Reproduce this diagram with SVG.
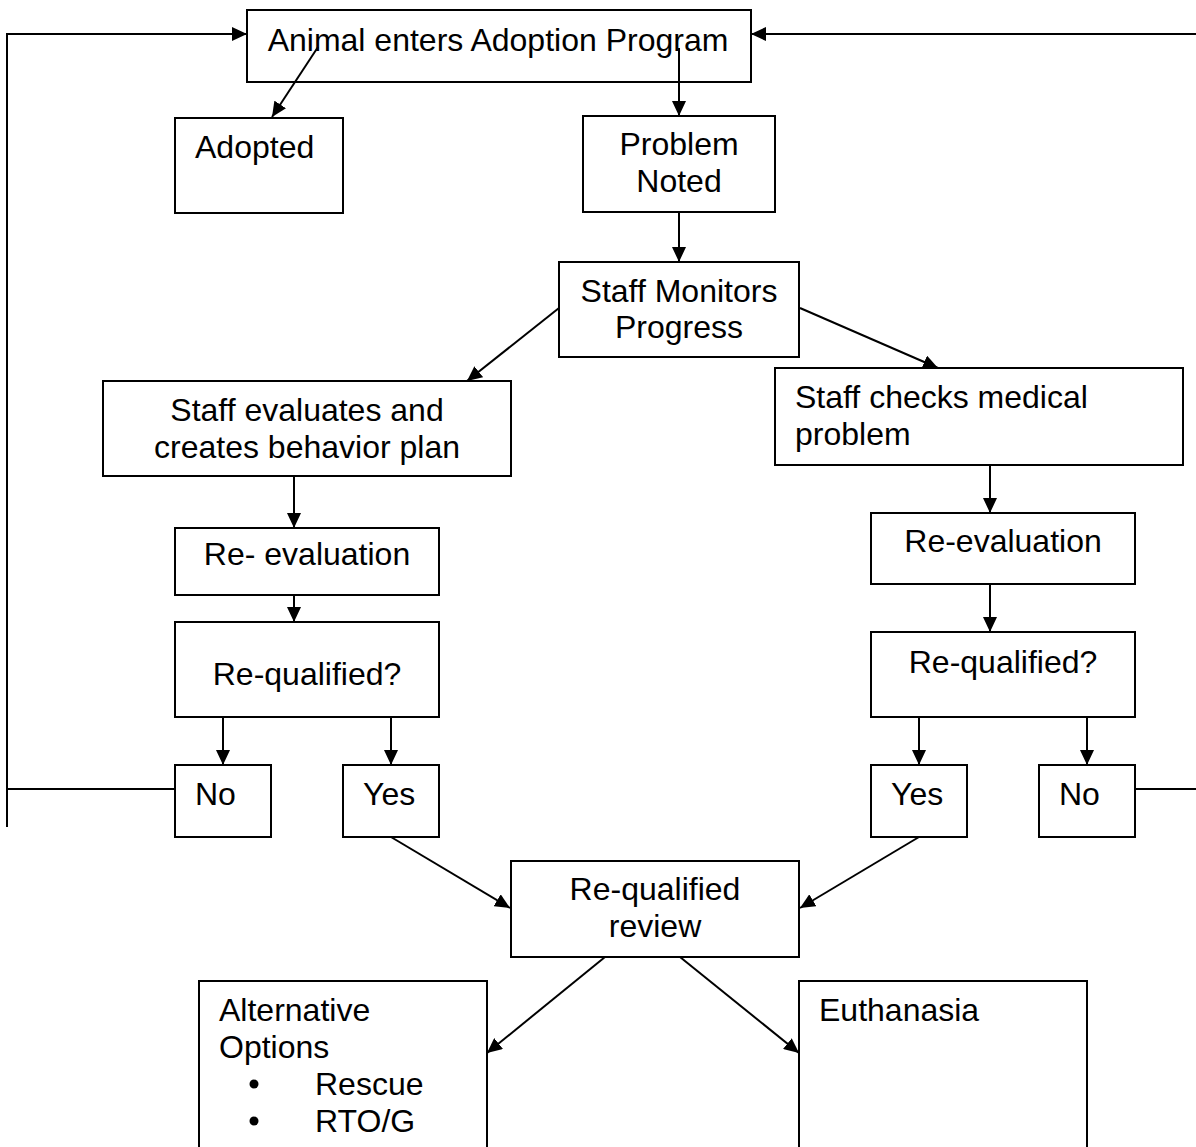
<svg xmlns="http://www.w3.org/2000/svg" width="1196" height="1147" viewBox="0 0 1196 1147">
<style>
.box{fill:#fff;stroke:#000;stroke-width:2}
.t{font-family:"Liberation Sans",Arial,sans-serif;font-size:32px;fill:#000}
.c{text-anchor:middle}
.ln{fill:none;stroke:#000;stroke-width:2}
.ar{marker-end:url(#ah)}
</style>
<defs>
<marker id="ah" markerUnits="userSpaceOnUse" markerWidth="16" markerHeight="14" refX="15" refY="7" orient="auto">
<path d="M0,0 L15,7 L0,14 Z" fill="#000"/>
</marker>
</defs>
<rect width="1196" height="1147" fill="#fff"/>
<g id="n-enter"><rect class="box" x="247" y="10" width="504" height="72"/><text class="t c" x="498" y="51">Animal enters Adoption Program</text></g>
<g id="n-adopted"><rect class="box" x="175" y="118" width="168" height="95"/><text class="t" x="195" y="158">Adopted</text></g>
<g id="n-problem"><rect class="box" x="583" y="116" width="192" height="96"/><text class="t c" x="679" y="155">Problem</text><text class="t c" x="679" y="192">Noted</text></g>
<g id="n-monitor"><rect class="box" x="559" y="262" width="240" height="95"/><text class="t c" x="679" y="302">Staff Monitors</text><text class="t c" x="679" y="338">Progress</text></g>
<g id="n-behavior"><rect class="box" x="103" y="381" width="408" height="95"/><text class="t c" x="307" y="421">Staff evaluates and</text><text class="t c" x="307" y="458">creates behavior plan</text></g>
<g id="n-medical"><rect class="box" x="775" y="368" width="408" height="97"/><text class="t" x="795" y="408">Staff checks medical</text><text class="t" x="795" y="445">problem</text></g>
<g id="n-reeval-l"><rect class="box" x="175" y="528" width="264" height="67"/><text class="t c" x="307" y="565">Re- evaluation</text></g>
<g id="n-requal-l"><rect class="box" x="175" y="622" width="264" height="95"/><text class="t c" x="307" y="685">Re-qualified?</text></g>
<g id="n-no-l"><rect class="box" x="175" y="765" width="96" height="72"/><text class="t" x="195" y="805">No</text></g>
<g id="n-yes-l"><rect class="box" x="343" y="765" width="96" height="72"/><text class="t" x="363" y="805">Yes</text></g>
<g id="n-reeval-r"><rect class="box" x="871" y="513" width="264" height="71"/><text class="t c" x="1003" y="552">Re-evaluation</text></g>
<g id="n-requal-r"><rect class="box" x="871" y="632" width="264" height="85"/><text class="t c" x="1003" y="673">Re-qualified?</text></g>
<g id="n-yes-r"><rect class="box" x="871" y="765" width="96" height="72"/><text class="t" x="891" y="805">Yes</text></g>
<g id="n-no-r"><rect class="box" x="1039" y="765" width="96" height="72"/><text class="t" x="1059" y="805">No</text></g>
<g id="n-review"><rect class="box" x="511" y="861" width="288" height="96"/><text class="t c" x="655" y="900">Re-qualified</text><text class="t c" x="655" y="937">review</text></g>
<g id="n-alt"><rect class="box" x="199" y="981" width="288" height="180"/><text class="t" x="219" y="1021">Alternative</text><text class="t" x="219" y="1058">Options</text><circle cx="254" cy="1084" r="4.5" fill="#000"/><text class="t" x="315" y="1095">Rescue</text><circle cx="254" cy="1121" r="4.5" fill="#000"/><text class="t" x="315" y="1132">RTO/G</text></g>
<g id="n-euth"><rect class="box" x="799" y="981" width="288" height="180"/><text class="t" x="819" y="1021">Euthanasia</text></g>
<g id="connectors">
<line class="ln ar" x1="318" y1="47" x2="272" y2="117"/>
<line class="ln ar" x1="679" y1="48" x2="679" y2="116"/>
<line class="ln ar" x1="679" y1="212" x2="679" y2="262"/>
<line class="ln ar" x1="559" y1="308" x2="467" y2="381"/>
<line class="ln ar" x1="800" y1="308" x2="938" y2="368"/>
<line class="ln ar" x1="294" y1="476" x2="294" y2="528"/>
<line class="ln ar" x1="294" y1="595" x2="294" y2="622"/>
<line class="ln ar" x1="223" y1="717" x2="223" y2="765"/>
<line class="ln ar" x1="391" y1="717" x2="391" y2="765"/>
<line class="ln ar" x1="990" y1="465" x2="990" y2="513"/>
<line class="ln ar" x1="990" y1="584" x2="990" y2="632"/>
<line class="ln ar" x1="919" y1="717" x2="919" y2="765"/>
<line class="ln ar" x1="1087" y1="717" x2="1087" y2="765"/>
<line class="ln ar" x1="391" y1="837" x2="510" y2="908"/>
<line class="ln ar" x1="919" y1="837" x2="800" y2="908"/>
<line class="ln ar" x1="605" y1="957" x2="487" y2="1053"/>
<line class="ln ar" x1="680" y1="957" x2="799" y2="1053"/>
<polyline class="ln ar" points="7,827 7,34 247,34"/>
<line class="ln" x1="175" y1="789" x2="7" y2="789"/>
<line class="ln ar" x1="1196" y1="34" x2="751" y2="34"/>
<line class="ln" x1="1135" y1="789" x2="1196" y2="789"/>
</g>
</svg>
